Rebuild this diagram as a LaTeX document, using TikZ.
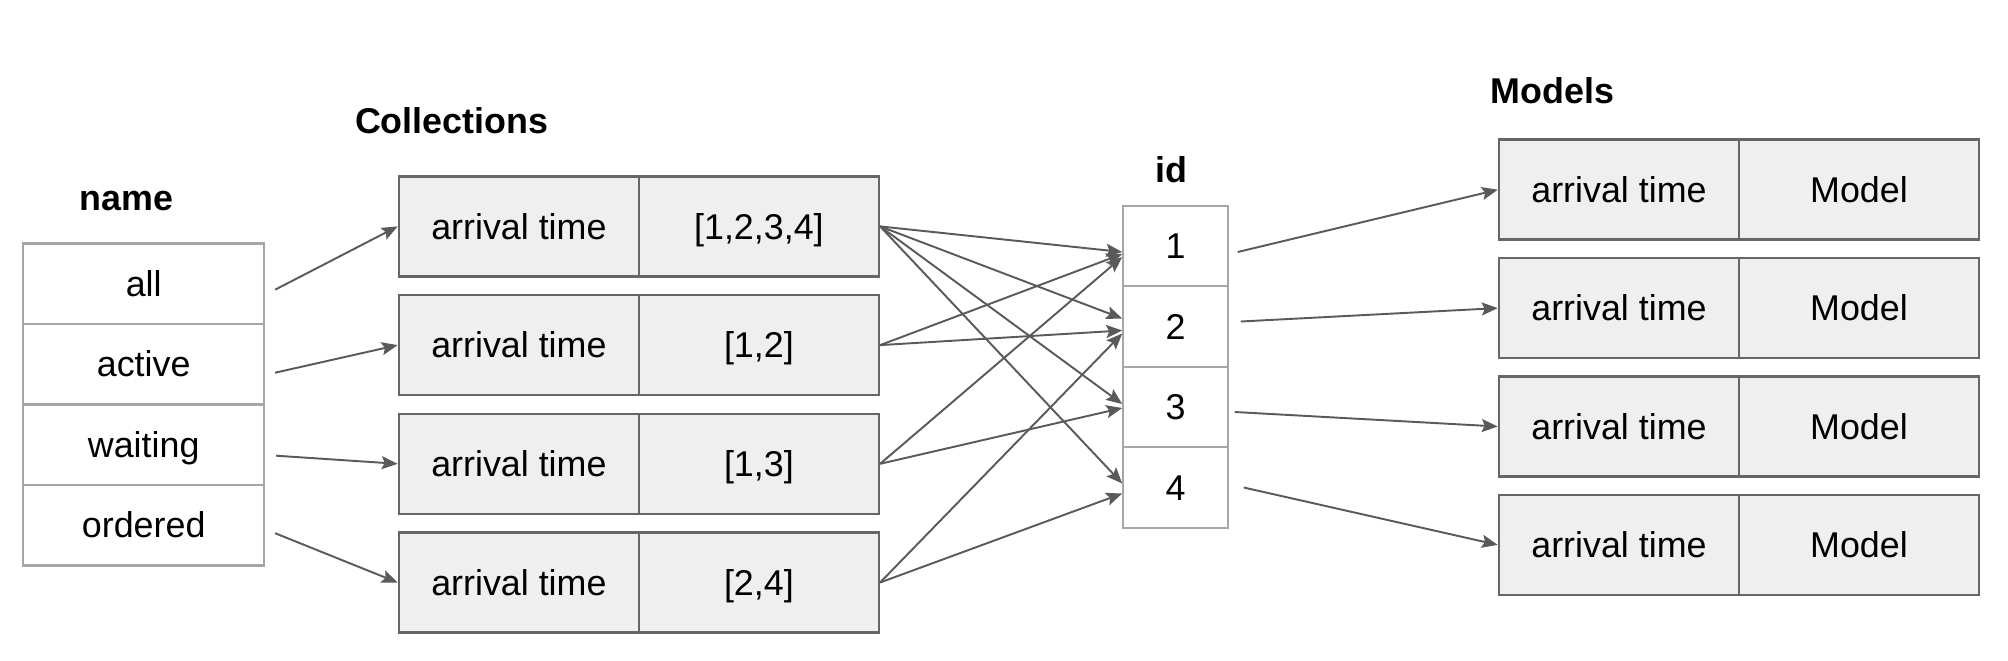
\documentclass[tikz,border=0pt]{standalone}
\usepackage{fontspec}
\setmainfont{Liberation Sans}
\usepackage{tikz}
\usetikzlibrary{arrows.meta,positioning}

\definecolor{cellfill}{HTML}{EFEFEF}
\definecolor{darkline}{HTML}{666666}
\definecolor{lightline}{HTML}{A6A6A6}
\definecolor{arrowline}{HTML}{5A5A5A}

\tikzset{
  every node/.style={font=\fontsize{10.2pt}{12pt}\selectfont, inner sep=0pt},
  namecell/.style={draw=lightline, line width=0.6pt, minimum width=2.407cm, minimum height=0.805cm,
    text height=0.72em, text depth=0pt},
  idcell/.style={draw=lightline, line width=0.6pt, minimum width=1.044cm, minimum height=0.805cm,
    text height=0.72em, text depth=0pt},
  graycell/.style={draw=darkline, fill=cellfill, line width=0.7pt, minimum width=2.40cm, minimum height=1.00cm,
    text height=0.72em, text depth=0pt},
  header/.style={anchor=base west, font=\fontsize{10.2pt}{12pt}\selectfont\bfseries},
  arr/.style={-{Stealth[length=0.16cm,width=0.13cm,inset=0.03cm]}, draw=arrowline, line width=0.55pt}
}

\begin{document}
\begin{tikzpicture}[node distance=1cm,on grid]
      \useasboundingbox (0,0) rectangle (20.08,6.60);

      % headers
      \node[header] (h_name) at (0.79,4.50) {name};
      \node[header] (h_coll) at (3.543,5.264) {Collections};
      \node[header] (h_id)   at (11.55,4.777) {id};
      \node[header] (h_mod)  at (14.90,5.566) {Models};

      % name column
      \node[namecell] (nm_1) at (1.437,3.763) {all};
      \node[namecell] (nm_2) [below=0.805cm of nm_1] {active};
      \node[namecell] (nm_3) [below=0.805cm of nm_2] {waiting};
      \node[namecell] (nm_4) [below=0.805cm of nm_3] {ordered};

      % collections
      \node[graycell] (cl_1) at (5.189,4.336) {arrival time};
      \node[graycell] (cv_1) [right=2.40cm of cl_1] {[1,2,3,4]};
      \node[graycell] (cl_2) [below=1.187cm of cl_1] {arrival time};
      \node[graycell] (cv_2) [right=2.40cm of cl_2] {[1,2]};
      \node[graycell] (cl_3) [below=1.187cm of cl_2] {arrival time};
      \node[graycell] (cv_3) [right=2.40cm of cl_3] {[1,3]};
      \node[graycell] (cl_4) [below=1.187cm of cl_3] {arrival time};
      \node[graycell] (cv_4) [right=2.40cm of cl_4] {[2,4]};

      % id column
      \node[idcell] (id_1) at (11.755,4.140) {1};
      \node[idcell] (id_2) [below=0.805cm of id_1] {2};
      \node[idcell] (id_3) [below=0.805cm of id_2] {3};
      \node[idcell] (id_4) [below=0.805cm of id_3] {4};

      % models
      \node[graycell] (md_1) at (16.19,4.703) {arrival time};
      \node[graycell] (mv_1) [right=2.40cm of md_1] {Model};
      \node[graycell] (md_2) [below=1.184cm of md_1] {arrival time};
      \node[graycell] (mv_2) [right=2.40cm of md_2] {Model};
      \node[graycell] (md_3) [below=1.184cm of md_2] {arrival time};
      \node[graycell] (mv_3) [right=2.40cm of md_3] {Model};
      \node[graycell] (md_4) [below=1.184cm of md_3] {arrival time};
      \node[graycell] (mv_4) [right=2.40cm of md_4] {Model};

      % name -> collection
      \path ([xshift=0.10cm,yshift=-0.06cm]nm_1.east) edge[arr] (cl_1.west);
      \path ([xshift=0.10cm,yshift=-0.085cm]nm_2.east) edge[arr] (cl_2.west);
      \path ([xshift=0.11cm,yshift=-0.11cm]nm_3.east) edge[arr] (cl_3.west);
      \path ([xshift=0.10cm,yshift=-0.08cm]nm_4.east) edge[arr] (cl_4.west);

      % collection -> id
      \path (cv_1.east) edge[arr] ([yshift=-0.06cm]id_1.west);
      \path (cv_1.east) edge[arr] ([yshift=0.08cm]id_2.west);
      \path (cv_1.east) edge[arr] ([yshift=0.03cm]id_3.west);
      \path (cv_1.east) edge[arr] ([yshift=0.04cm]id_4.west);
      \path (cv_2.east) edge[arr] ([yshift=-0.08cm]id_1.west);
      \path (cv_2.east) edge[arr] ([yshift=-0.04cm]id_2.west);
      \path (cv_3.east) edge[arr] ([yshift=-0.11cm]id_1.west);
      \path (cv_3.east) edge[arr] ([yshift=-0.01cm]id_3.west);
      \path (cv_4.east) edge[arr] ([yshift=-0.07cm]id_2.west);
      \path (cv_4.east) edge[arr] ([yshift=-0.06cm]id_4.west);

      % id -> model
      \path ([xshift=0.09cm,yshift=-0.06cm]id_1.east) edge[arr] (md_1.west);
      \path ([xshift=0.12cm,yshift=0.05cm]id_2.east) edge[arr] (md_2.west);
      \path ([xshift=0.06cm,yshift=-0.05cm]id_3.east) edge[arr] (md_3.west);
      \path ([xshift=0.15cm]id_4.east) edge[arr] (md_4.west);
\end{tikzpicture}
\end{document}
